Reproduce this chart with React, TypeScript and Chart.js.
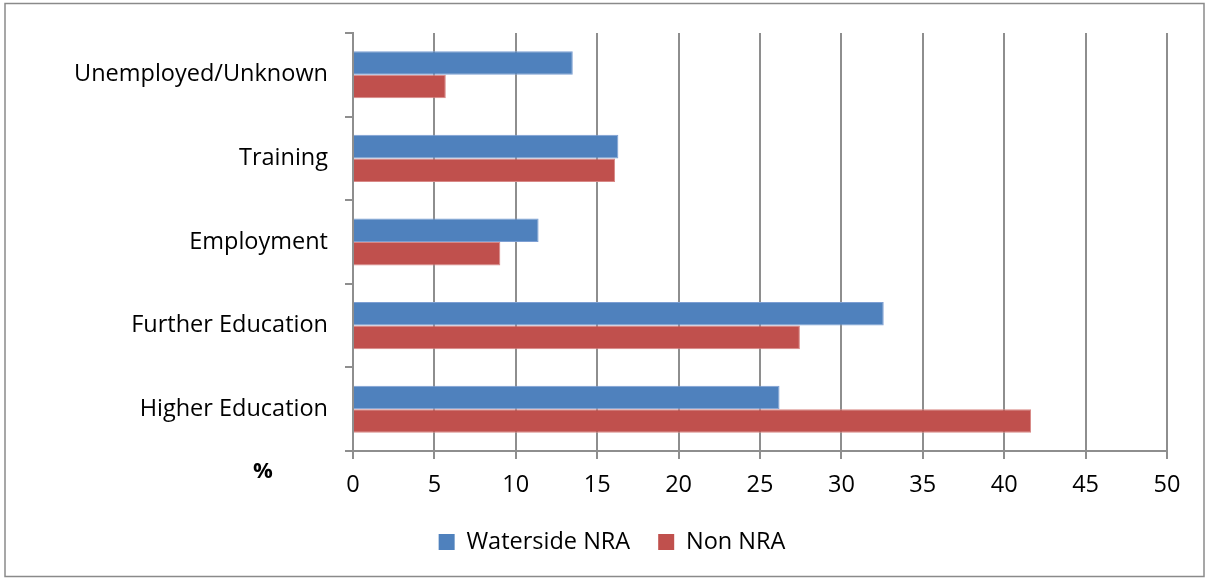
import React, { useEffect, useRef } from "react";
import { Chart, registerables } from "chart.js";

Chart.register(...registerables);

const categories = ["Unemployed/Unknown", "Training", "Employment", "Further Education", "Higher Education"];
const watersideNRA = [13.5, 16.3, 11.4, 32.6, 26.2];
const nonNRA = [5.7, 16.1, 9.05, 27.45, 41.65];
const seriesNames = ["Waterside NRA", "Non NRA"];
const axisUnit = "%";
const xMin = 0;
const xMax = 50;
const xStep = 5;

const FONT = "'Open Sans', sans-serif";
const FS = 23.5;
const GRID = "#8e8e8e";
const PAD_LEFT = 57;

const framePlugin = {
  id: "frame",
  beforeDraw(chart: any) {
    const ctx = chart.ctx;
    ctx.save();
    ctx.fillStyle = "#ffffff";
    ctx.fillRect(0, 0, chart.width, chart.height);
    ctx.strokeStyle = "#8a8a8a";
    ctx.lineWidth = 1.5;
    ctx.strokeRect(5, 3.5, chart.width - 8, chart.height - 5);
    ctx.restore();
  },
  afterDraw(chart: any) {
    const ctx = chart.ctx;
    ctx.save();
    ctx.fillStyle = "#000";
    ctx.font = `bold 22px ${FONT}`;
    ctx.textAlign = "center";
    ctx.textBaseline = "middle";
    ctx.fillText(axisUnit, 263, 472);
    ctx.restore();
  },
};

export default function App() {
  const ref = useRef<HTMLCanvasElement>(null);
  useEffect(() => {
    const chart = new Chart(ref.current!, {
      type: "bar",
      data: {
        labels: categories,
        datasets: [
          {
            label: seriesNames[0],
            data: watersideNRA,
            backgroundColor: "#4F81BD",
            borderColor: "#7d9fd3",
            borderWidth: 1,
          },
          {
            label: seriesNames[1],
            data: nonNRA,
            backgroundColor: "#C0504D",
            borderColor: "#d88886",
            borderWidth: 1,
          },
        ],
      },
      options: {
        indexAxis: "y",
        responsive: false,
        animation: false,
        devicePixelRatio: 1,
        datasets: { bar: { categoryPercentage: 0.563, barPercentage: 1 } },
        layout: { padding: { top: 33, left: PAD_LEFT, right: 40, bottom: 14.25 } },
        plugins: {
          tooltip: { enabled: false },
          legend: {
            position: "bottom",
            labels: {
              boxWidth: 16,
              boxHeight: 16,
              padding: 28,
              color: "#000",
              font: { family: FONT, size: FS },
              generateLabels: (c: any) =>
                Chart.defaults.plugins.legend.labels
                  .generateLabels(c)
                  .map((l: any) => ({ ...l, lineWidth: 0, strokeStyle: l.fillStyle })),
            },
          },
        },
        scales: {
          y: {
            type: "category",
            offset: true,
            afterFit: (s: any) => {
              s.width = 353 - PAD_LEFT;
            },
            grid: {
              offset: true,
              drawOnChartArea: false,
              drawTicks: true,
              tickLength: 8,
              color: GRID,
              lineWidth: 2,
            },
            border: { display: true, color: GRID, width: 2 },
            ticks: {
              color: "#000",
              padding: 17,
              font: { family: FONT, size: FS },
            },
          },
          x: {
            type: "linear",
            min: xMin,
            max: xMax,
            afterFit: (s: any) => {
              s.height = 51.25;
            },
            grid: { color: GRID, lineWidth: 2, tickLength: 8, drawTicks: true },
            border: { display: true, color: GRID, width: 2 },
            ticks: {
              stepSize: xStep,
              color: "#000",
              padding: 12,
              font: { family: FONT, size: FS },
            },
          },
        },
      },
      plugins: [framePlugin],
    });
    return () => chart.destroy();
  }, []);
  return (
    <div style={{ position: "absolute", left: 0, top: 0, width: 1207, height: 578 }}>
      <canvas ref={ref} width={1207} height={578} />
    </div>
  );
}
